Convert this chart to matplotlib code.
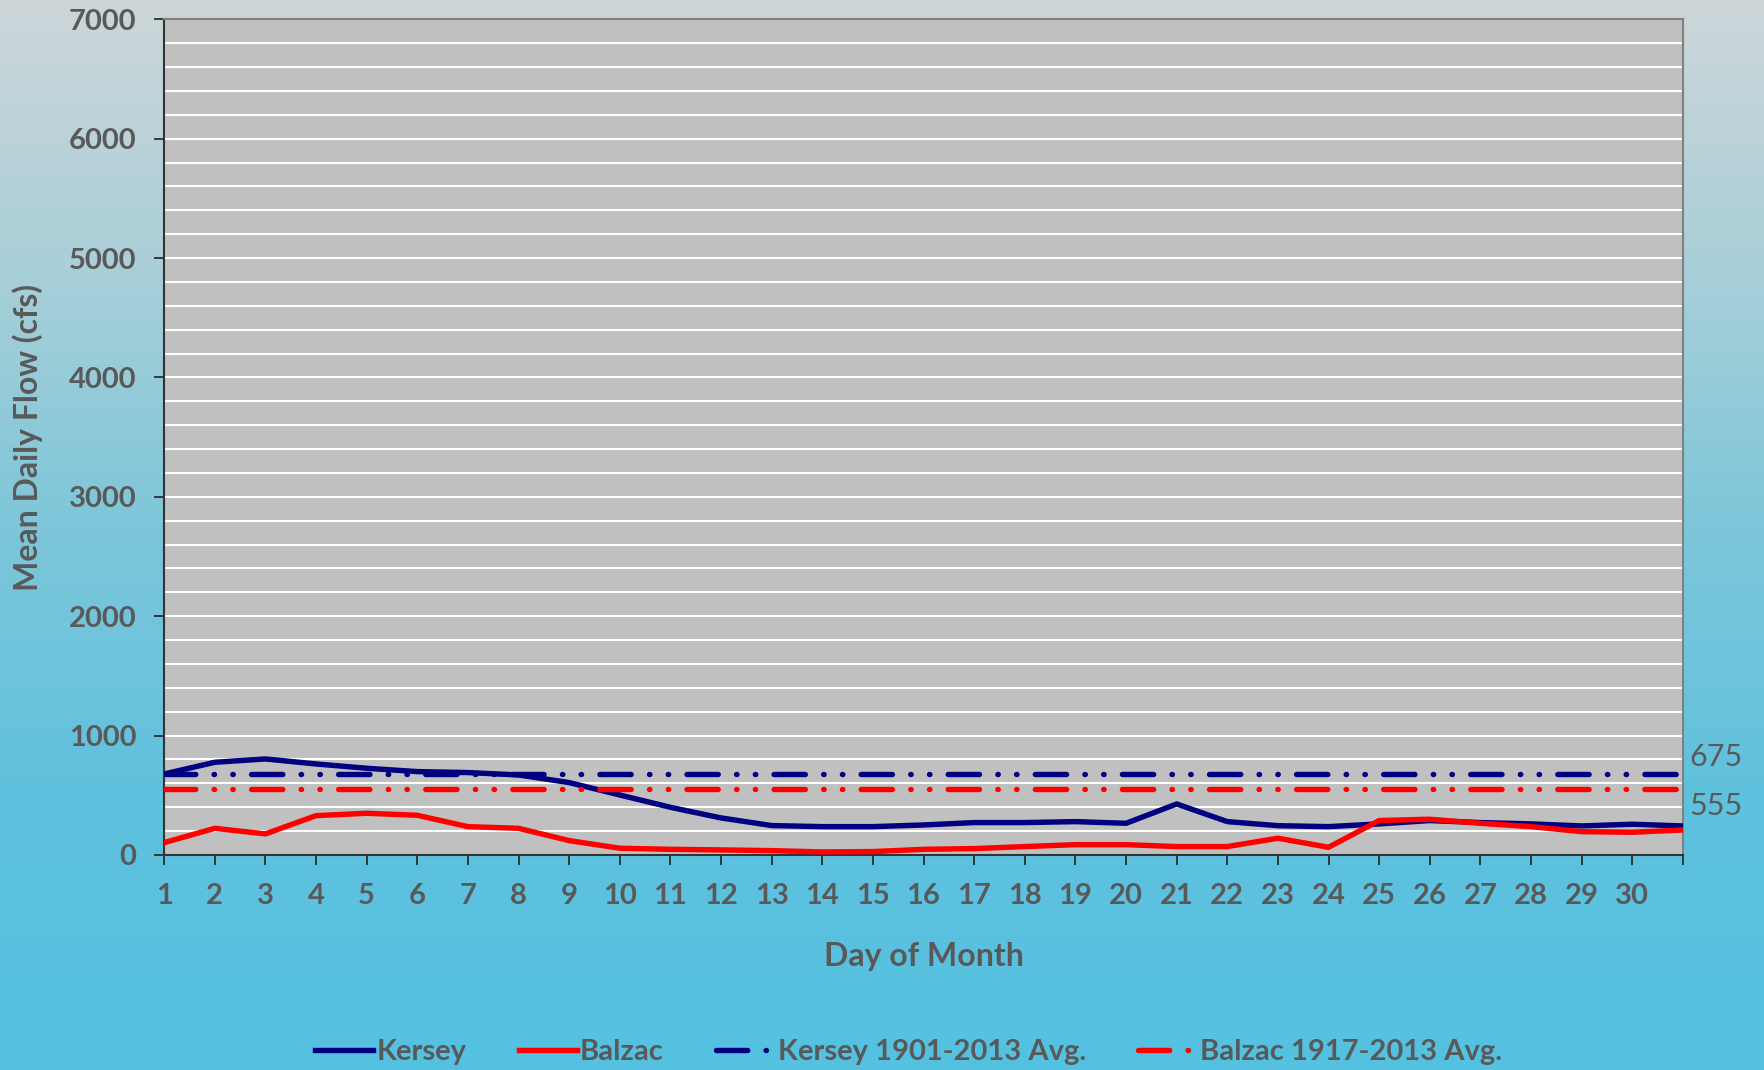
# IMPORT LIBRARY
import matplotlib.pyplot as plt
import numpy as np
from matplotlib.colors import LinearSegmentedColormap
from matplotlib.ticker import MultipleLocator

plt.rcParams['font.family'] = ['Lato', 'DejaVu Sans']
plt.rcParams['lines.scale_dashes'] = False

# DATA
days = list(range(1, 32))
day_labels = [str(d) for d in range(1, 31)] + [""]
kersey = [678, 776, 804, 762, 726, 698, 690, 670, 606, 502, 399, 310, 246, 237,
          237, 251, 271, 271, 279, 265, 427, 279, 245, 237, 260, 288, 271, 260,
          243, 257, 243]
balzac = [103, 223, 176, 329, 349, 332, 237, 223, 120, 56, 47, 42, 36, 25,
          28, 47, 53, 70, 86, 86, 70, 70, 140, 64, 288, 299, 265, 237, 195,
          190, 209]
kersey_avg = 675
balzac_avg = 555

TXT = "#595959"
NAVY = "#000080"
RED = "#ff0000"

fig = plt.figure(figsize=(17.65, 10.70), dpi=100)

# background gradient
bg = fig.add_axes([0, 0, 1, 1], zorder=-10)
cmap = LinearSegmentedColormap.from_list(
    "bg", ["#cdd6d9", "#a9cfd8", "#7cc6da", "#5fc1de", "#55c1e1"])
bg.imshow(np.linspace(0, 1, 256).reshape(-1, 1), aspect="auto", cmap=cmap,
          extent=[0, 1, 0, 1])
bg.axis("off")

ax = fig.add_axes([0.093, 0.201, 0.8605, 0.781])
ax.set_facecolor("#c0c0c0")

ax.plot(days, kersey, color=NAVY, lw=3.9, label="Kersey", zorder=3)
ax.plot(days, balzac, color=RED, lw=3.9, label="Balzac", zorder=4)

dash = (0, (22.5, 13.2, 0.3, 13.2, 0.3, 13.2))
ax.axhline(kersey_avg, color=NAVY, lw=3.9, linestyle=dash,
           dash_capstyle="round", label="Kersey 1901-2013 Avg.", zorder=5)
ax.axhline(balzac_avg, color=RED, lw=3.9, linestyle=dash,
           dash_capstyle="round", label="Balzac 1917-2013 Avg.", zorder=5)

ax.text(1.004, kersey_avg + 30, str(kersey_avg), transform=ax.get_yaxis_transform(),
        ha="left", va="bottom", fontsize=22, color=TXT)
ax.text(1.004, balzac_avg - 25, str(balzac_avg), transform=ax.get_yaxis_transform(),
        ha="left", va="top", fontsize=22, color=TXT)

ax.set_xlim(1, 31)
ax.set_ylim(0, 7000)
ax.set_xticks(days)
ax.set_xticklabels(day_labels)
ax.yaxis.set_major_locator(MultipleLocator(1000))
ax.yaxis.set_minor_locator(MultipleLocator(200))
ax.grid(which="both", axis="y", color="white", lw=1.5, zorder=1)
ax.set_axisbelow(True)
ax.tick_params(axis="both", which="major", direction="out", length=7, width=1.2,
               color="#222222", labelsize=21, labelcolor=TXT, pad=13)
ax.tick_params(axis="y", which="minor", length=0)
for lab in ax.get_xticklabels() + ax.get_yticklabels():
    lab.set_fontweight("bold")

ax.spines["left"].set_color("#333333")
ax.spines["bottom"].set_color("#333333")
ax.spines["top"].set_color("#808080")
ax.spines["right"].set_color("#808080")
for s in ax.spines.values():
    s.set_linewidth(1.5)

ax.set_xlabel("Day of Month", fontsize=23, fontweight="bold", color=TXT, labelpad=24)
ax.set_ylabel("Mean Daily Flow (cfs)", fontsize=23, fontweight="bold", color=TXT)
ax.yaxis.set_label_coords(-0.08, 0.5)

leg = ax.legend(loc="center", bbox_to_anchor=(0.49, -0.236), ncol=4,
                frameon=False, fontsize=21, handlelength=2.0, columnspacing=1.8,
                handletextpad=0.1)
for t in leg.get_texts():
    t.set_color(TXT)
    t.set_fontweight("bold")

fig.savefig("out.png", dpi=100)
